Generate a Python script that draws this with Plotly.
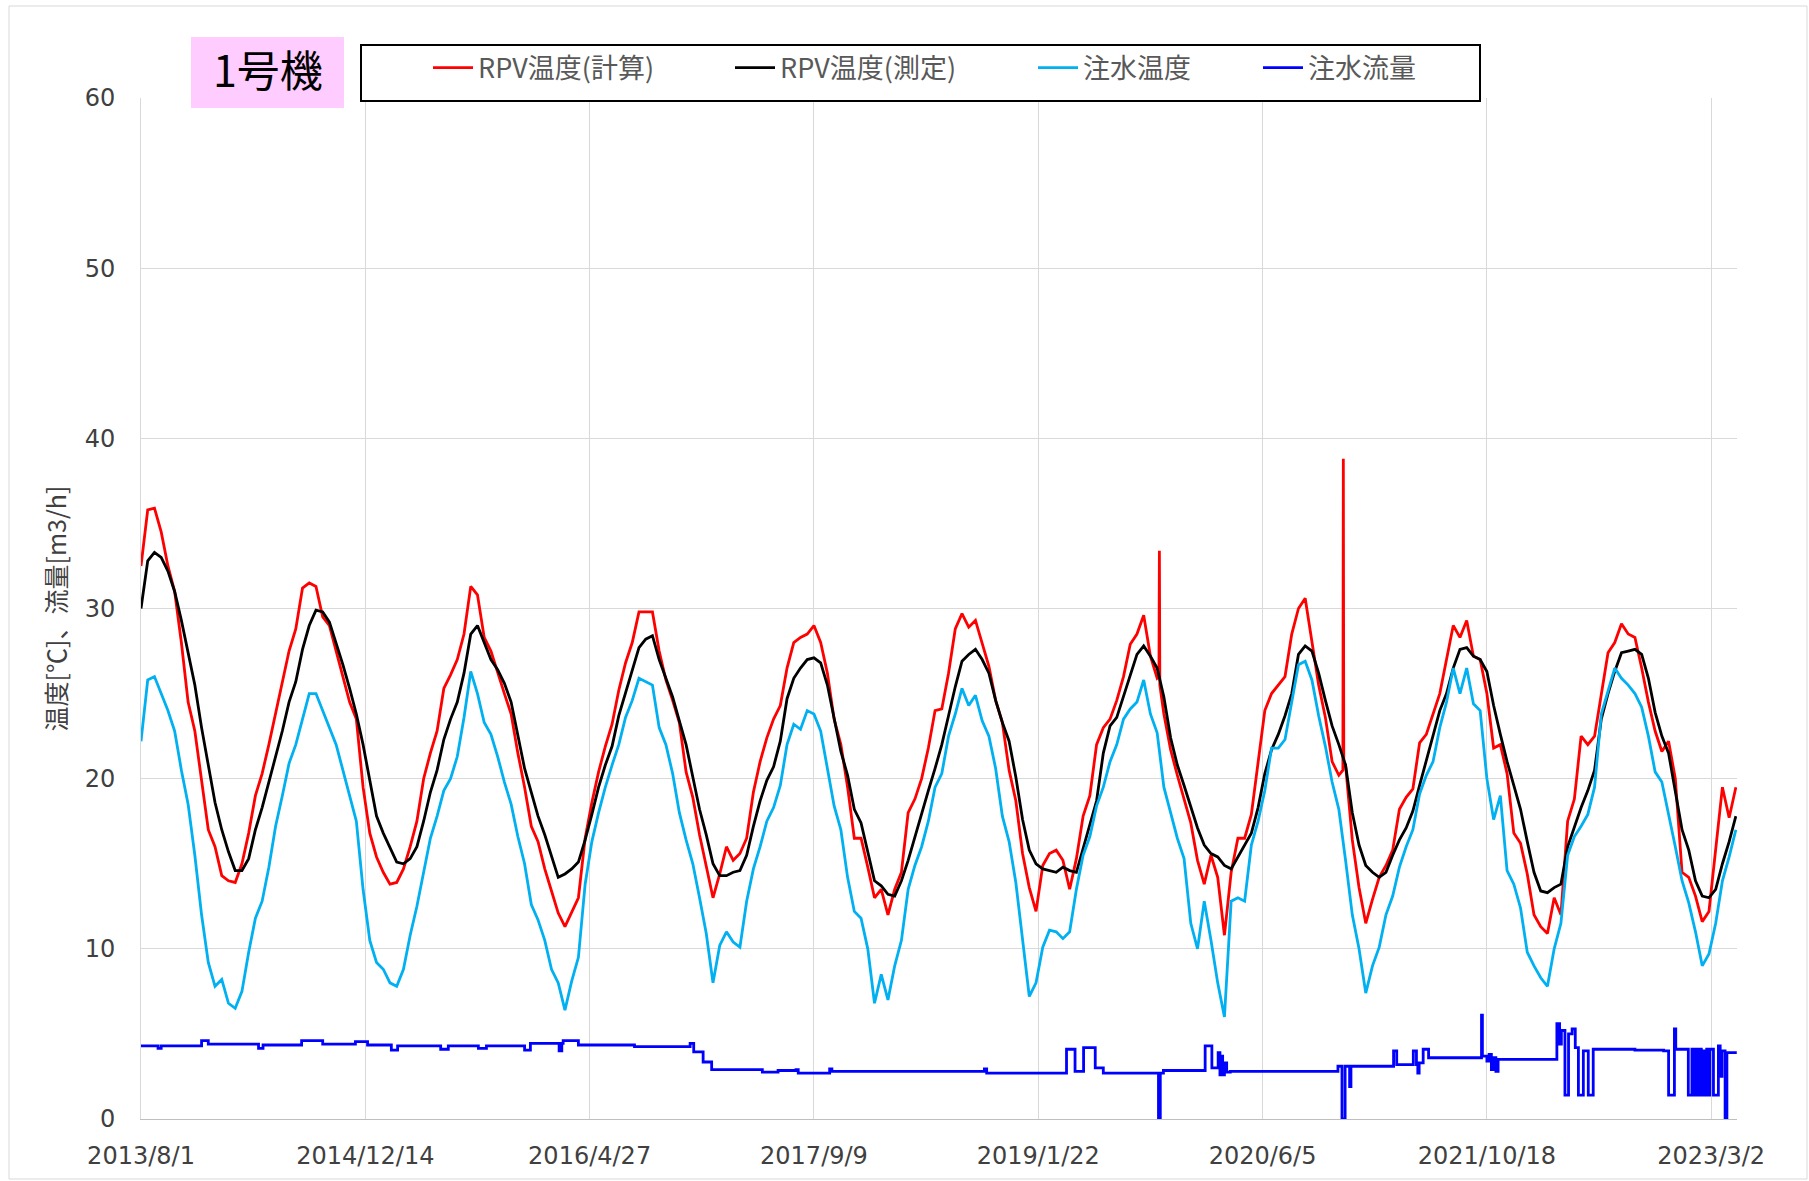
import pandas as pd
import plotly.graph_objects as go

# ---- data -------------------------------------------------------------
start_date = pd.Timestamp("2013-08-01")
sample_step_days = 15  # temperature readings, one every 15 days

# RPV temperature (calculated) [degC]
rpv_calc = [
    32.5, 35.8, 35.9, 34.5, 32.5, 31.0, 28.0, 24.5, 22.8, 20.0,
    17.0, 16.0, 14.3, 14.0, 13.9, 15.0, 16.8, 19.0, 20.3, 22.0,
    23.9, 25.8, 27.5, 28.8, 31.2, 31.5, 31.3, 29.5, 29.0, 27.5,
    26.0, 24.5, 23.5, 19.5, 16.8, 15.4, 14.5, 13.8, 13.9, 14.7,
    16.0, 17.5, 20.0, 21.5, 22.8, 25.3, 26.1, 27.0, 28.5, 31.3,
    30.8, 28.3, 27.5, 26.2, 25.0, 23.8, 21.5, 19.5, 17.2, 16.3,
    14.7, 13.4, 12.1, 11.3, 12.2, 13.0, 16.5, 18.6, 20.4, 21.9,
    23.2, 25.2, 26.8, 28.0, 29.8, 29.8, 29.8, 27.5, 25.8, 24.6,
    23.3, 20.4, 18.9, 16.7, 14.9, 13.0, 14.4, 16.0, 15.2, 15.6,
    16.5, 19.2, 21.0, 22.4, 23.5, 24.3, 26.5, 28.0, 28.3, 28.5,
    29.0, 28.0, 26.2, 23.5, 22.0, 19.5, 16.5, 16.5, 14.8, 13.0,
    13.5, 12.0, 13.5, 14.5, 18.0, 18.8, 20.0, 21.8, 24.0, 24.1,
    26.2, 28.8, 29.7, 28.9, 29.3, 27.9, 26.6, 24.6, 23.3, 20.5,
    18.7, 15.6, 13.6, 12.2, 14.9, 15.6, 15.8, 15.2, 13.5, 15.3,
    17.8, 19.0, 22.0, 23.0, 23.5, 24.6, 26.0, 27.9, 28.5, 29.6,
    27.2, 25.9, 23.8, 21.7, 20.2, 18.8, 17.4, 15.2, 13.8, 15.5,
    14.2, 10.8, 14.5, 16.5, 16.5, 17.9, 21.0, 24.0, 25.0, 25.5,
    26.0, 28.5, 30.0, 30.6, 28.0, 25.5, 23.6, 21.0, 20.2, 20.8,
    16.4, 13.6, 11.5, 12.9, 14.2, 14.9, 15.8, 18.2, 18.9, 19.4,
    22.1, 22.6, 23.8, 25.0, 27.0, 29.0, 28.3, 29.3, 27.2, 27.0,
    25.0, 21.8, 22.0, 20.3, 16.8, 16.2, 14.4, 12.0, 11.3, 10.9,
    13.0, 12.0, 17.5, 18.8, 22.5, 22.0, 22.5, 25.0, 27.4, 28.0,
    29.1, 28.5, 28.3, 26.5, 24.5, 22.8, 21.6, 22.2, 20.0, 14.5,
    14.2, 13.1, 11.6, 12.2, 16.0, 19.5, 17.7, 19.5,
]

# short-lived spikes in the calculated RPV temperature
calc_spike_dates = ["2019-10-18", "2019-10-19", "2019-10-20",
                    "2020-12-01", "2020-12-02", "2020-12-03"]
calc_spike_vals = [26.0, 33.4, 25.5, 20.5, 38.8, 21.0]

# RPV temperature (measured) [degC]
rpv_meas = [
    30.0, 32.8, 33.3, 33.0, 32.2, 31.0, 29.3, 27.4, 25.5, 23.0,
    20.8, 18.6, 17.0, 15.7, 14.6, 14.6, 15.3, 17.0, 18.3, 19.8,
    21.4, 22.8, 24.5, 25.7, 27.6, 29.0, 29.9, 29.8, 29.2, 28.0,
    26.7, 25.3, 23.8, 22.0, 20.0, 17.8, 16.8, 15.9, 15.1, 15.0,
    15.3, 16.0, 17.5, 19.2, 20.5, 22.3, 23.5, 24.5, 26.2, 28.5,
    29.0, 28.0, 27.0, 26.4, 25.6, 24.5, 22.5, 20.6, 19.2, 17.8,
    16.7, 15.5, 14.2, 14.4, 14.7, 15.1, 16.4, 17.9, 19.5, 20.8,
    21.9, 23.7, 25.0, 26.3, 27.7, 28.2, 28.4, 27.0, 25.9, 24.8,
    23.4, 22.0, 20.1, 18.2, 16.7, 15.0, 14.3, 14.3, 14.5, 14.6,
    15.5, 17.2, 18.7, 19.9, 20.7, 22.2, 24.7, 25.9, 26.5, 27.0,
    27.1, 26.8, 25.5, 23.6, 21.6, 20.2, 18.2, 17.4, 15.6, 14.0,
    13.7, 13.2, 13.1, 14.0, 15.2, 16.6, 18.0, 19.3, 20.6, 22.0,
    23.7, 25.4, 26.9, 27.3, 27.6, 27.0, 26.2, 24.6, 23.3, 22.2,
    20.1, 17.6, 15.8, 15.0, 14.7, 14.6, 14.5, 14.8, 14.6, 14.5,
    15.9, 17.2, 18.7, 21.5, 23.1, 23.6, 24.8, 26.0, 27.3, 27.8,
    27.2, 26.5, 24.8, 22.4, 20.8, 19.6, 18.4, 17.1, 16.1, 15.6,
    15.4, 14.9, 14.7, 15.4, 16.1, 16.8, 18.3, 20.3, 21.7, 22.6,
    23.7, 25.0, 27.3, 27.8, 27.5, 26.2, 24.6, 23.1, 22.0, 20.8,
    18.0, 16.1, 14.9, 14.5, 14.2, 14.5, 15.5, 16.4, 17.1, 18.1,
    19.6, 21.1, 22.5, 24.0, 25.0, 26.5, 27.6, 27.7, 27.2, 27.0,
    26.3, 24.3, 22.6, 21.0, 19.6, 18.2, 16.3, 14.5, 13.4, 13.3,
    13.6, 13.8, 16.0, 17.2, 18.3, 19.3, 20.5, 23.5, 25.0, 26.3,
    27.4, 27.5, 27.6, 27.3, 25.9, 23.9, 22.5, 21.5, 19.3, 17.0,
    15.8, 14.0, 13.1, 13.0, 13.5, 15.0, 16.3, 17.8,
]

# injection water temperature [degC]
inj_temp = [
    22.2, 25.8, 26.0, 25.0, 24.0, 22.8, 20.5, 18.5, 15.5, 12.0,
    9.2, 7.8, 8.2, 6.8, 6.5, 7.5, 9.8, 11.8, 12.8, 14.8,
    17.2, 19.0, 20.9, 22.0, 23.5, 25.0, 25.0, 24.0, 23.0, 22.0,
    20.5, 19.0, 17.5, 13.5, 10.5, 9.2, 8.8, 8.0, 7.8, 8.8,
    10.8, 12.5, 14.5, 16.5, 17.8, 19.3, 20.0, 21.3, 23.6, 26.3,
    25.0, 23.3, 22.6, 21.3, 19.8, 18.5, 16.6, 15.0, 12.6, 11.7,
    10.5, 8.8, 8.0, 6.4, 8.1, 9.5, 13.8, 16.3, 18.0, 19.5,
    20.8, 22.0, 23.6, 24.6, 25.9, 25.7, 25.5, 23.0, 22.0, 20.3,
    18.0, 16.4, 15.0, 13.0, 10.9, 8.0, 10.2, 11.0, 10.4, 10.1,
    12.8, 14.7, 16.0, 17.5, 18.3, 19.6, 22.0, 23.2, 22.9, 24.0,
    23.8, 22.8, 20.5, 18.4, 17.0, 14.2, 12.2, 11.8, 10.0, 6.8,
    8.5, 7.0, 9.0, 10.5, 13.5, 14.9, 16.0, 17.5, 19.5, 20.3,
    22.5, 23.8, 25.3, 24.3, 24.9, 23.4, 22.5, 20.6, 17.8, 16.3,
    13.9, 10.4, 7.2, 8.0, 10.1, 11.1, 11.0, 10.6, 11.0, 13.5,
    15.5, 16.6, 18.4, 19.5, 21.0, 22.0, 23.5, 24.1, 24.5, 25.8,
    23.8, 22.7, 19.5, 18.0, 16.5, 15.3, 11.5, 10.0, 12.8, 10.5,
    8.0, 6.0, 12.8, 13.0, 12.8, 16.1, 17.5, 19.3, 21.8, 21.8,
    22.3, 24.5, 26.7, 26.9, 25.8, 23.7, 21.9, 19.8, 18.2, 15.2,
    12.0, 10.0, 7.4, 9.0, 10.1, 12.0, 13.1, 14.8, 16.0, 17.0,
    19.1, 20.2, 21.0, 23.0, 24.5, 26.5, 25.0, 26.5, 24.4, 24.0,
    20.0, 17.6, 19.0, 14.6, 13.8, 12.4, 9.8, 9.0, 8.3, 7.8,
    10.0, 11.5, 15.5, 16.6, 17.2, 17.9, 19.5, 23.8, 25.2, 26.5,
    25.9, 25.5, 25.0, 24.2, 22.5, 20.4, 19.8, 18.0, 16.0, 14.0,
    12.7, 11.0, 9.0, 9.7, 11.5, 14.0, 15.4, 17.0,
]

# injection flow rate [m3/h], stepwise: days since start_date -> value
flow_day_offsets = [
    0, 38, 45, 135, 150, 262, 272, 358, 405, 478, 505, 558, 572, 668, 685,
    752, 770, 855, 868, 932, 938, 941, 975, 1100, 1224, 1232, 1253, 1272,
    1385, 1420, 1460, 1465, 1535, 1540, 1880, 1885, 2063, 2082, 2101, 2127,
    2145, 2268, 2272, 2279, 2372, 2387, 2401, 2405, 2408, 2411, 2415, 2420,
    2428, 2668, 2677, 2684, 2694, 2697, 2792, 2799, 2836, 2843, 2846, 2849,
    2858, 2870, 2988, 2990, 3000, 3005, 3010, 3015, 3020, 3025, 3156, 3162,
    3166, 3174, 3182, 3190, 3197, 3204, 3215, 3226, 3237, 3330, 3394, 3405,
    3418, 3421, 3449, 3457, 3462, 3466, 3470, 3474, 3478, 3482, 3486, 3490,
    3494, 3497, 3505, 3516, 3520, 3524, 3531, 3535, 3557,
]
flow_rate = [
    4.3, 4.15, 4.3, 4.6, 4.4, 4.15, 4.35, 4.6, 4.4, 4.55, 4.35, 4.05, 4.3, 4.1, 4.3,
    4.15, 4.3, 4.05, 4.45, 4.0, 4.45, 4.6, 4.35, 4.25, 4.45, 3.95, 3.35, 2.9,
    2.75, 2.85, 2.9, 2.7, 2.95, 2.8, 2.95, 2.7, 4.1, 2.8, 4.2, 3.0,
    2.7, 0.0, 2.7, 2.85, 4.3, 3.0, 3.9, 2.6, 3.7, 2.6, 3.3, 2.75,
    2.8, 3.1, 0.0, 3.1, 1.9, 3.1, 4.0, 3.2, 4.0, 3.2, 2.7, 3.3,
    4.1, 3.6, 6.1, 3.7, 3.4, 3.8, 2.9, 3.6, 2.8, 3.5, 5.6, 4.4,
    5.2, 1.4, 5.0, 5.3, 4.2, 1.4, 4.0, 1.4, 4.1, 4.05, 4.0, 1.4,
    5.3, 4.1, 1.4, 4.1, 1.4, 4.1, 1.4, 4.1, 1.4, 4.0, 1.4, 4.1,
    1.4, 4.1, 1.4, 4.3, 2.5, 4.0, 0.0, 3.9, 3.9,
]

series_names = ["RPV温度(計算)", "RPV温度(測定)", "注水温度", "注水流量"]
series_colors = ["#FF0000", "#000000", "#00B0F0", "#0000FF"]

tick_labels = ["2013/8/1", "2014/12/14", "2016/4/27", "2017/9/9",
               "2019/1/22", "2020/6/5", "2021/10/18", "2023/3/2"]
tick_step_days = 500
axis_end = pd.Timestamp("2023-04-28 12:00")

# ---- derived x values --------------------------------------------------
sample_dates = pd.date_range(start_date, periods=len(rpv_calc),
                             freq=f"{sample_step_days}D")
calc_series = pd.concat([
    pd.Series(rpv_calc, index=sample_dates),
    pd.Series(calc_spike_vals, index=pd.to_datetime(calc_spike_dates)),
]).sort_index()
flow_dates = [start_date + pd.Timedelta(days=d) for d in flow_day_offsets]
tick_vals = [start_date + pd.Timedelta(days=tick_step_days * i)
             for i in range(len(tick_labels))]

# ---- figure geometry (pixels) ------------------------------------------
W, H = 1809, 1181
ML, MR, MT, MB = 141, 72, 98, 62
PW, PH = W - ML - MR, H - MT - MB


def px_x(x):
    return (x - ML) / PW


def px_y(y):
    return (H - MB - y) / PH


fig = go.Figure()
legend_widths = [247, 248, 170, 150]
traces = [
    (calc_series.index, calc_series.values, "linear"),
    (sample_dates, rpv_meas, "linear"),
    (sample_dates, inj_temp, "linear"),
    (flow_dates, flow_rate, "hv"),
]
for (xs, ys, shape), name, color, lw in zip(traces, series_names,
                                            series_colors, legend_widths):
    fig.add_trace(go.Scatter(
        x=xs, y=ys, mode="lines", name=name, legendwidth=lw,
        line=dict(color=color, width=2.8, shape=shape),
    ))

grid = "#D9D9D9"
fig.update_layout(
    width=W, height=H,
    margin=dict(l=ML, r=MR, t=MT, b=MB, pad=0),
    paper_bgcolor="white", plot_bgcolor="white",
    showlegend=True,
    legend=dict(
        orientation="h", x=px_x(428), xanchor="left",
        y=px_y(68), yanchor="middle",
        bgcolor="rgba(0,0,0,0)", borderwidth=0,
        font=dict(family="Noto Sans CJK JP", size=27, color="#595959"),
        itemwidth=40, tracegroupgap=0,
    ),
    xaxis=dict(
        type="date", range=[start_date, axis_end],
        tickmode="array", tickvals=tick_vals, ticktext=tick_labels,
        showgrid=True, gridcolor=grid, gridwidth=1,
        showline=True, linecolor="#BFBFBF", linewidth=1,
        ticks="", ticklabelstandoff=15, zeroline=False,
        tickfont=dict(family="DejaVu Sans", size=24, color="#404040"),
    ),
    yaxis=dict(
        range=[0, 60], dtick=10, tick0=0,
        showgrid=True, gridcolor=grid, gridwidth=1,
        showline=True, linecolor=grid, linewidth=1,
        ticks="", ticklabelstandoff=20, zeroline=False,
        tickfont=dict(family="DejaVu Sans", size=24, color="#404040"),
        title=dict(text="温度[℃]、流量[m3/h]", standoff=10,
                   font=dict(family="Noto Sans CJK JP", size=25,
                             color="#404040")),
    ),
    shapes=[
        # outer chart frame
        dict(type="rect", xref="paper", yref="paper",
             x0=px_x(9), x1=px_x(1807), y0=px_y(1179), y1=px_y(6),
             line=dict(color="#D9D9D9", width=1), fillcolor="rgba(0,0,0,0)",
             layer="below"),
        # unit name badge
        dict(type="rect", xref="paper", yref="paper",
             x0=px_x(191), x1=px_x(344), y0=px_y(108), y1=px_y(37),
             line=dict(width=0), fillcolor="#FFCCFF", layer="above"),
        # legend frame
        dict(type="rect", xref="paper", yref="paper",
             x0=px_x(361), x1=px_x(1480), y0=px_y(101), y1=px_y(45),
             line=dict(color="black", width=2), fillcolor="white",
             layer="above"),
    ],
    annotations=[
        dict(text="1号機", xref="paper", yref="paper",
             x=px_x(267.5), y=px_y(72.5), xanchor="center", yanchor="middle",
             yshift=5, showarrow=False,
             font=dict(family="Noto Sans CJK JP", size=43, color="black")),
    ],
)

fig.write_html("out.html")
